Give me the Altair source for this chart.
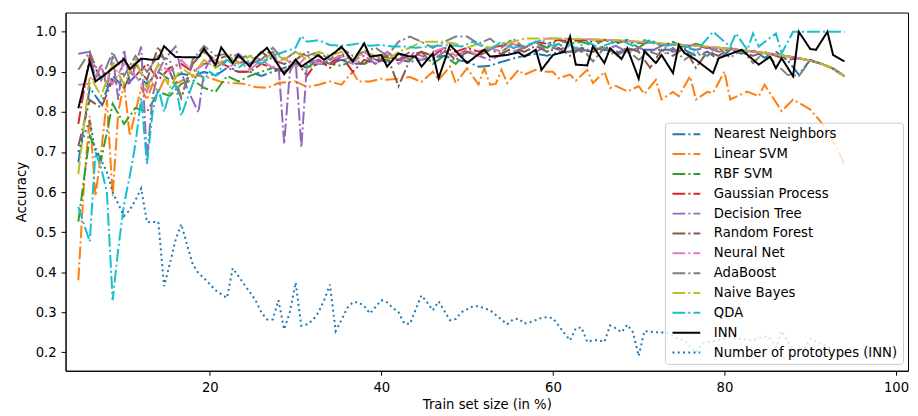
import altair as alt
import pandas as pd

NAMES = ["Nearest Neighbors", "Linear SVM", "RBF SVM", "Gaussian Process", "Decision Tree",
         "Random Forest", "Neural Net", "AdaBoost", "Naive Bayes", "QDA", "INN",
         "Number of prototypes (INN)"]
COLORS = ["#1f77b4", "#ff7f0e", "#2ca02c", "#d62728", "#9467bd", "#8c564b", "#e377c2",
          "#7f7f7f", "#bcbd22", "#17becf", "#000000", "#1f77b4"]

# shared x grid (train set size in %)
X_GRID = [4.67, 6.0, 7.33, 8.67, 10.0, 11.33, 12.67, 14.0, 15.33, 16.67,
          18.0, 19.33, 20.67, 22.0, 23.33, 24.67, 26.0, 27.33, 28.67, 30.0,
          31.33, 32.67, 34.0, 35.33, 36.67, 38.0, 39.33, 40.67, 42.0, 43.33,
          44.67, 46.0, 47.33, 48.67, 50.0, 51.33, 52.67, 54.0, 55.33, 56.67,
          58.0, 59.33, 60.67, 62.0, 63.33, 64.67, 66.0, 67.33, 68.67, 70.0,
          71.33, 72.67, 74.0, 75.33, 76.67, 78.0, 79.33, 80.67, 82.0, 83.33,
          84.67, 86.0, 87.33, 88.67, 90.0, 91.33, 92.67, 94.0]

NEAREST_NEIGHBORS = [0.674, 0.86, 0.82, 0.89, 0.86, 0.89, 0.87, 0.90, 0.88, 0.895,
                     0.89, 0.90, 0.89, 0.91, 0.90, 0.90, 0.89, 0.90, 0.91, 0.92,
                     0.91, 0.92, 0.92, 0.93, 0.92, 0.92, 0.93, 0.925, 0.93, 0.925,
                     0.93, 0.935, 0.94, 0.93, 0.925, 0.913, 0.915, 0.925, 0.933, 0.94,
                     0.945, 0.94, 0.95, 0.95, 0.955, 0.95, 0.955, 0.95, 0.955, 0.955,
                     0.955, 0.955, 0.955, 0.955, 0.94, 0.95, 0.93, 0.955, 0.945, 0.955,
                     0.935, 0.95, 0.93, 0.893, 0.93, 0.92, 0.908, 0.889]
RBF_SVM = [0.526, 0.74, 0.68, 0.82, 0.77, 0.81, 0.80, 0.85, 0.84, 0.87,
           0.88, 0.86, 0.85, 0.89, 0.876, 0.89, 0.90, 0.91, 0.90, 0.92,
           0.91, 0.93, 0.92, 0.915, 0.93, 0.92, 0.94, 0.93, 0.945, 0.93,
           0.95, 0.92, 0.94, 0.92, 0.95, 0.94, 0.96, 0.95, 0.97, 0.96,
           0.975, 0.96, 0.98, 0.97, 0.975, 0.965, 0.98, 0.97, 0.98, 0.96,
           0.98, 0.965, 0.975, 0.96, 0.97, 0.96, 0.96, 0.957, 0.954, 0.951,
           0.947, 0.943, 0.939, 0.934, 0.928, 0.92, 0.908, 0.889]
GAUSSIAN_PROCESS = [0.77, 0.94, 0.88, 0.91, 0.93, 0.89, 0.92, 0.88, 0.91, 0.92,
                    0.90, 0.92, 0.925, 0.915, 0.90, 0.90, 0.92, 0.91, 0.90, 0.93,
                    0.89, 0.93, 0.91, 0.94, 0.90, 0.93, 0.92, 0.94, 0.93, 0.94,
                    0.95, 0.94, 0.96, 0.95, 0.96, 0.95, 0.96, 0.965, 0.97, 0.96,
                    0.975, 0.97, 0.98, 0.975, 0.98, 0.975, 0.98, 0.975, 0.977, 0.972,
                    0.973, 0.968, 0.969, 0.965, 0.965, 0.96, 0.96, 0.957, 0.954, 0.951,
                    0.947, 0.943, 0.939, 0.934, 0.928, 0.92, 0.908, 0.889]
RANDOM_FOREST = [0.715, 0.83, 0.81, 0.88, 0.86, 0.92, 0.88, 0.963, 0.90, 0.835,
                 0.92, 0.95, 0.93, 0.94, 0.925, 0.92, 0.95, 0.93, 0.92, 0.93,
                 0.95, 0.94, 0.92, 0.945, 0.93, 0.95, 0.93, 0.94, 0.864, 0.93,
                 0.95, 0.94, 0.955, 0.93, 0.95, 0.94, 0.955, 0.945, 0.96, 0.95,
                 0.965, 0.95, 0.96, 0.94, 0.96, 0.95, 0.965, 0.945, 0.96, 0.95,
                 0.91, 0.955, 0.94, 0.96, 0.91, 0.95, 0.94, 0.96, 0.95, 0.94,
                 0.95, 0.94, 0.93, 0.934, 0.928, 0.92, 0.908, 0.889]
NEURAL_NET = [0.868, 0.87, 0.91, 0.87, 0.92, 0.89, 0.85, 0.92, 0.90, 0.93,
              0.90, 0.92, 0.93, 0.91, 0.925, 0.905, 0.93, 0.91, 0.935, 0.91,
              0.94, 0.92, 0.93, 0.94, 0.92, 0.95, 0.93, 0.95, 0.92, 0.94,
              0.93, 0.95, 0.96, 0.94, 0.955, 0.94, 0.96, 0.95, 0.97, 0.96,
              0.975, 0.983, 0.983, 0.982, 0.982, 0.981, 0.98, 0.979, 0.977, 0.975,
              0.973, 0.971, 0.969, 0.967, 0.965, 0.963, 0.96, 0.957, 0.954, 0.951,
              0.947, 0.943, 0.939, 0.934, 0.928, 0.92, 0.908, 0.889]
ADABOOST = [0.905, 0.95, 0.88, 0.95, 0.89, 0.94, 0.90, 0.94, 0.93, 0.835,
            0.93, 0.965, 0.94, 0.945, 0.935, 0.94, 0.93, 0.96, 0.93, 0.95,
            0.94, 0.95, 0.93, 0.96, 0.94, 0.95, 0.96, 0.94, 0.975, 0.988,
            0.975, 0.96, 0.975, 0.988, 0.988, 0.97, 0.983, 0.96, 0.983, 0.96,
            0.975, 0.95, 0.97, 0.95, 0.96, 0.926, 0.96, 0.94, 0.955, 0.93,
            0.95, 0.94, 0.96, 0.93, 0.95, 0.94, 0.96, 0.935, 0.955, 0.922,
            0.95, 0.92, 0.893, 0.889, 0.93, 0.92, 0.908, 0.889]
NAIVE_BAYES = [0.645, 0.89, 0.84, 0.92, 0.87, 0.93, 0.86, 0.92, 0.86, 0.91,
               0.89, 0.93, 0.91, 0.94, 0.92, 0.94, 0.92, 0.95, 0.93, 0.95,
               0.93, 0.95, 0.94, 0.95, 0.93, 0.95, 0.94, 0.93, 0.95, 0.96,
               0.975, 0.975, 0.975, 0.97, 0.96, 0.97, 0.96, 0.97, 0.975, 0.983,
               0.983, 0.983, 0.983, 0.982, 0.982, 0.981, 0.98, 0.979, 0.977, 0.975,
               0.973, 0.971, 0.969, 0.967, 0.965, 0.963, 0.96, 0.957, 0.954, 0.951,
               0.947, 0.943, 0.939, 0.934, 0.928, 0.92, 0.908, 0.889]

# series read point by point: (train size %, value)
LINEAR_SVM = [(4.67, 0.38), (5.33, 0.62), (6.0, 0.79), (6.67, 0.59), (7.33, 0.70), (8.0, 0.83),
              (8.67, 0.59), (9.33, 0.80), (10.0, 0.87), (10.67, 0.74), (11.33, 0.80), (12.0, 0.86),
              (12.67, 0.83), (13.33, 0.87), (14.0, 0.85), (14.67, 0.88), (16.0, 0.87), (17.33, 0.885),
              (18.67, 0.89), (20.0, 0.885), (21.33, 0.875), (22.67, 0.872), (24.0, 0.87), (25.33, 0.862),
              (26.67, 0.86), (28.0, 0.872), (30.0, 0.876), (31.33, 0.862), (32.67, 0.868), (34.0, 0.876),
              (35.33, 0.868), (36.67, 0.90), (37.33, 0.876), (38.67, 0.876), (40.0, 0.883), (40.67, 0.88),
              (42.0, 0.883), (43.33, 0.887), (44.67, 0.875), (46.0, 0.90), (46.67, 0.88), (48.0, 0.913),
              (48.67, 0.872), (50.0, 0.909), (51.33, 0.868), (52.0, 0.909), (52.67, 0.868), (53.33, 0.87),
              (54.0, 0.905), (54.67, 0.872), (56.0, 0.905), (56.67, 0.893), (58.0, 0.905), (59.33, 0.90),
              (60.0, 0.90), (60.67, 0.884), (62.0, 0.893), (62.67, 0.878), (64.0, 0.905), (64.67, 0.872),
              (66.0, 0.90), (66.67, 0.86), (67.33, 0.865), (68.67, 0.851), (70.0, 0.864), (70.67, 0.845),
              (72.0, 0.88), (72.67, 0.831), (74.0, 0.85), (74.67, 0.839), (76.0, 0.889), (76.67, 0.831),
              (78.0, 0.85), (78.67, 0.847), (80.0, 0.901), (80.67, 0.831), (82.67, 0.851), (84.0, 0.839),
              (84.67, 0.868), (86.67, 0.802), (88.0, 0.831), (90.0, 0.806), (91.33, 0.773), (92.67, 0.728),
              (94.0, 0.67)]
DECISION_TREE = [(4.67, 0.945), (6.0, 0.95), (6.67, 0.88), (7.33, 0.92), (8.0, 0.86), (8.67, 0.94),
                 (9.33, 0.83), (10.0, 0.955), (10.67, 0.87), (12.0, 0.963), (12.67, 0.68), (13.33, 0.84),
                 (14.0, 0.90), (14.67, 0.93), (16.0, 0.963), (16.67, 0.90), (17.33, 0.86), (18.67, 0.798),
                 (19.33, 0.90), (20.0, 0.93), (20.67, 0.91), (22.0, 0.93), (23.33, 0.945), (24.67, 0.92),
                 (26.0, 0.93), (27.33, 0.95), (28.0, 0.92), (28.67, 0.72), (29.33, 0.90), (30.0, 0.93),
                 (30.67, 0.711), (31.33, 0.92), (32.67, 0.93), (34.0, 0.92), (35.33, 0.94), (36.67, 0.93),
                 (38.0, 0.94), (39.33, 0.92), (40.67, 0.95), (42.0, 0.93), (43.33, 0.95), (44.67, 0.94),
                 (46.0, 0.93), (47.33, 0.95), (48.67, 0.94), (50.0, 0.955), (51.33, 0.94), (52.67, 0.93),
                 (54.0, 0.942), (55.33, 0.95), (56.67, 0.96), (58.0, 0.95), (59.33, 0.965), (60.67, 0.955),
                 (62.0, 0.965), (63.33, 0.95), (64.67, 0.96), (66.0, 0.955), (67.33, 0.965), (68.67, 0.95),
                 (70.0, 0.96), (71.33, 0.95), (72.67, 0.965), (74.0, 0.95), (75.33, 0.96), (76.67, 0.955),
                 (78.0, 0.96), (79.33, 0.95), (80.67, 0.957), (82.0, 0.954), (83.33, 0.951), (84.67, 0.947),
                 (86.0, 0.943), (87.33, 0.939), (88.67, 0.934), (90.0, 0.928), (91.33, 0.92), (92.67, 0.908),
                 (94.0, 0.889)]
QDA = [(4.67, 0.563), (6.0, 0.476), (6.67, 0.70), (7.33, 0.66), (8.0, 0.60), (8.67, 0.33),
       (9.33, 0.46), (10.0, 0.57), (10.67, 0.64), (11.33, 0.72), (12.0, 0.835), (12.67, 0.67),
       (13.33, 0.80), (14.0, 0.86), (14.67, 0.80), (15.33, 0.85), (16.0, 0.87), (16.67, 0.79),
       (17.33, 0.83), (18.0, 0.87), (18.67, 0.90), (19.33, 0.88), (20.0, 0.90), (20.67, 0.89),
       (22.0, 0.93), (23.33, 0.91), (24.67, 0.93), (26.0, 0.92), (27.33, 0.94), (28.67, 0.95),
       (30.0, 0.96), (30.67, 0.99), (31.33, 0.975), (32.67, 0.979), (34.0, 0.967), (35.33, 0.965),
       (36.67, 0.968), (37.33, 0.971), (38.67, 0.965), (40.0, 0.967), (41.33, 0.963), (42.67, 0.963),
       (44.0, 0.96), (45.33, 0.963), (46.67, 0.965), (48.0, 0.967), (49.33, 0.963), (50.67, 0.975),
       (52.67, 0.955), (54.0, 0.975), (55.33, 0.96), (56.67, 0.965), (58.67, 0.979), (60.0, 0.965),
       (61.33, 0.975), (62.67, 0.959), (64.0, 0.975), (65.33, 0.96), (66.67, 0.971), (68.0, 0.979),
       (69.33, 0.965), (70.67, 0.979), (72.0, 0.97), (73.33, 0.965), (74.67, 0.97), (76.0, 0.96),
       (76.67, 0.95), (78.67, 1.0), (80.67, 0.963), (81.33, 0.996), (82.67, 0.955), (83.33, 0.996),
       (84.0, 0.963), (86.0, 0.996), (86.67, 0.946), (88.0, 1.0), (90.0, 1.0), (92.0, 1.0), (94.0, 1.0)]
INN = [(4.67, 0.809), (6.0, 0.926), (6.67, 0.876), (8.0, 0.897), (10.0, 0.932), (10.67, 0.907),
       (12.0, 0.933), (13.33, 0.93), (14.0, 0.932), (14.67, 0.964), (16.0, 0.937), (18.67, 0.936),
       (19.33, 0.958), (20.67, 0.917), (21.33, 0.961), (22.67, 0.922), (23.33, 0.942), (24.67, 0.913),
       (25.33, 0.935), (26.67, 0.96), (28.67, 0.894), (30.0, 0.93), (30.67, 0.913), (32.67, 0.942),
       (33.33, 0.93), (34.67, 0.95), (35.33, 0.963), (36.67, 0.926), (38.0, 0.971), (38.67, 0.938),
       (40.0, 0.942), (40.67, 0.913), (41.33, 0.93), (42.0, 0.946), (43.33, 0.938), (44.0, 0.938),
       (44.67, 0.913), (46.0, 0.946), (46.67, 0.884), (48.0, 0.967), (50.0, 0.922), (52.0, 0.955),
       (52.67, 0.938), (54.67, 0.942), (56.0, 0.949), (56.67, 0.938), (58.0, 0.955), (58.67, 0.905),
       (60.0, 0.942), (61.33, 0.95), (62.0, 0.988), (62.67, 0.918), (64.0, 0.916), (64.67, 0.963),
       (66.0, 0.922), (66.67, 0.959), (68.0, 0.932), (68.67, 0.959), (70.0, 0.883), (70.67, 0.952),
       (72.0, 0.922), (72.67, 0.942), (74.0, 0.897), (74.67, 0.967), (75.33, 0.947), (76.67, 0.93),
       (78.67, 0.897), (79.33, 0.934), (82.0, 0.955), (84.0, 0.918), (85.33, 0.938), (86.0, 0.909),
       (86.67, 0.934), (88.0, 0.889), (88.67, 1.0), (90.0, 0.957), (90.67, 0.955), (92.0, 1.0),
       (92.67, 0.942), (94.0, 0.926)]
PROTOTYPES = [(4.67, 0.70), (5.33, 0.74), (6.0, 0.78), (6.67, 0.70), (7.33, 0.68), (8.0, 0.65),
              (8.67, 0.60), (9.33, 0.57), (10.0, 0.54), (10.67, 0.555), (11.33, 0.58), (12.0, 0.609),
              (12.67, 0.525), (14.0, 0.525), (14.67, 0.365), (15.33, 0.42), (16.0, 0.48), (16.67, 0.52),
              (17.33, 0.47), (18.0, 0.42), (18.67, 0.398), (19.33, 0.385), (20.0, 0.37), (20.67, 0.355),
              (21.33, 0.345), (22.0, 0.336), (22.67, 0.41), (23.33, 0.39), (24.0, 0.37), (24.67, 0.35),
              (25.33, 0.33), (26.0, 0.30), (26.67, 0.282), (27.33, 0.282), (28.0, 0.33), (28.67, 0.257),
              (29.33, 0.30), (30.0, 0.374), (30.67, 0.266), (31.33, 0.27), (32.0, 0.28), (32.67, 0.30),
              (33.33, 0.33), (34.0, 0.369), (34.67, 0.253), (35.33, 0.28), (36.0, 0.31), (36.67, 0.325),
              (37.33, 0.325), (38.0, 0.315), (38.67, 0.297), (40.0, 0.33), (40.67, 0.325), (41.33, 0.311),
              (42.0, 0.30), (42.67, 0.272), (43.33, 0.271), (44.0, 0.307), (44.67, 0.342), (45.33, 0.325),
              (46.0, 0.305), (46.67, 0.327), (48.0, 0.28), (48.67, 0.283), (49.33, 0.30), (50.67, 0.315),
              (51.33, 0.315), (52.67, 0.305), (54.67, 0.27), (55.33, 0.282), (56.0, 0.284), (56.67, 0.272),
              (57.33, 0.275), (58.67, 0.286), (59.33, 0.288), (60.0, 0.285), (61.33, 0.248), (62.0, 0.23),
              (62.67, 0.26), (63.33, 0.262), (64.0, 0.226), (64.67, 0.23), (65.33, 0.23), (66.0, 0.226),
              (66.67, 0.267), (67.33, 0.26), (68.0, 0.25), (68.67, 0.269), (69.33, 0.25), (70.0, 0.191),
              (70.67, 0.253), (72.0, 0.25), (73.33, 0.249), (74.0, 0.24), (74.67, 0.233), (75.33, 0.23),
              (76.67, 0.20), (77.33, 0.22), (78.0, 0.225), (79.33, 0.23), (80.67, 0.237), (82.0, 0.233),
              (83.33, 0.23), (84.67, 0.24), (85.33, 0.235), (86.0, 0.212), (86.67, 0.253), (87.33, 0.23),
              (88.0, 0.205), (89.33, 0.21), (90.0, 0.234), (91.33, 0.22), (92.67, 0.21), (94.0, 0.195)]

GRID_SERIES = {
    "Nearest Neighbors": NEAREST_NEIGHBORS, "RBF SVM": RBF_SVM,
    "Gaussian Process": GAUSSIAN_PROCESS, "Random Forest": RANDOM_FOREST,
    "Neural Net": NEURAL_NET, "AdaBoost": ADABOOST, "Naive Bayes": NAIVE_BAYES,
}
PAIR_SERIES = {
    "Linear SVM": LINEAR_SVM, "Decision Tree": DECISION_TREE, "QDA": QDA,
    "INN": INN, "Number of prototypes (INN)": PROTOTYPES,
}

rows = []
for name in NAMES:
    pts = list(zip(X_GRID, GRID_SERIES[name])) if name in GRID_SERIES else PAIR_SERIES[name]
    for i, (x, y) in enumerate(pts):
        rows.append({"series": name, "x": x, "y": y, "i": i})
df = pd.DataFrame(rows)

DASHDOT = [12.8, 3.2, 2, 3.2]
DASHES = [DASHDOT] * 10 + [[1, 0], [2, 3.3]]

FONT = "DejaVu Sans"
FS = 13.3

legend = alt.Legend(
    title=None, orient="none", legendX=604, legendY=111,
    symbolType="M-3,0H3", symbolSize=87, symbolStrokeWidth=2,
    symbolOffset=10, labelOffset=21, rowPadding=6.0, padding=5,
    labelFont=FONT, labelFontSize=FS, labelColor="black", labelLimit=0,
    fillColor="rgba(255,255,255,0.8)", strokeColor="#cccccc", cornerRadius=3,
)

chart = alt.Chart(df).mark_line(strokeWidth=2, clip=True).encode(
    x=alt.X("x:Q",
            scale=alt.Scale(domain=[3.18, 101.4], nice=False, zero=False),
            axis=alt.Axis(values=[20, 40, 60, 80, 100], format="d",
                          title="Train set size (in %)", titlePadding=4)),
    y=alt.Y("y:Q",
            scale=alt.Scale(domain=[0.154, 1.048], nice=False, zero=False),
            axis=alt.Axis(values=[0.2, 0.3, 0.4, 0.5, 0.6, 0.7, 0.8, 0.9, 1.0], format=".1f",
                          title="Accuracy", titlePadding=7)),
    color=alt.Color("series:N", scale=alt.Scale(domain=NAMES, range=COLORS), legend=legend),
    strokeDash=alt.StrokeDash("series:N", scale=alt.Scale(domain=NAMES, range=DASHES), legend=legend),
    order=alt.Order("i:Q"),
).properties(
    width=849, height=361,
    padding={"left": 58, "top": 3, "right": 2, "bottom": 42},
    autosize=alt.AutoSizeParams(type="none"),
).configure_view(
    stroke="black", strokeWidth=1
).configure_axis(
    grid=False, labelFont=FONT, labelFontSize=FS, labelColor="black",
    titleFont=FONT, titleFontSize=FS, titleFontWeight="normal", titleColor="black",
    tickColor="black", tickSize=4.5, tickWidth=1, domainColor="black", domainWidth=1,
    labelPadding=5,
)

chart.save("out.html", embed_options={"renderer": "svg", "actions": False})
